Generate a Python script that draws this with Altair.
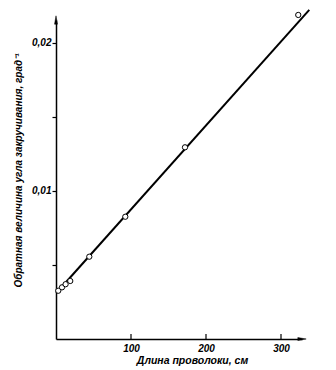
import altair as alt
import pandas as pd

# measured points: wire length (cm) vs inverse twist angle (1/deg)
length_cm = [3, 8, 12.8, 19, 44.4, 92.4, 172, 323]
inv_angle = [0.00326, 0.00349, 0.00370, 0.00392, 0.00556, 0.00826, 0.01295, 0.02189]

# fitted straight line (two ends as drawn)
line_x = [0.4, 337.7]
line_y = [0.00311, 0.02223]

x_ticks = [100, 200, 300]
y_ticks = [0.005, 0.01, 0.015, 0.02]
y_labels = ["", "0,01", "", "0,02"]

X_MAX = 328
Y_MAX = 0.02155

FONT = "Liberation Sans"

pts = pd.DataFrame({"x": length_cm, "y": inv_angle})
ln = pd.DataFrame({"x": line_x, "y": line_y})

label_expr = " : ".join(
    [f"datum.value == {v} ? '{l}'" for v, l in zip(y_ticks, y_labels)]
) + " : ''"

xs = alt.Scale(domain=[0, X_MAX], nice=False, zero=True)
ys = alt.Scale(domain=[0, Y_MAX], nice=False, zero=True)

x_axis = alt.Axis(
    values=x_ticks, format="d", title="Длина проволоки, см",
    grid=False, domainColor="black", domainWidth=1.5,
    ticks=False,
    labelFont=FONT, labelFontStyle="italic", labelFontWeight="bold",
    labelFontSize=10, labelColor="black", labelPadding=4,
    titleFont=FONT, titleFontStyle="italic", titleFontWeight="bold",
    titleFontSize=10.5, titleColor="black", titlePadding=2, titleX=136,
)
y_axis = alt.Axis(
    values=y_ticks, labelExpr=label_expr,
    title="Обратная величина угла закручивания, град⁻¹",
    grid=False, domainColor="black", domainWidth=1.5,
    tickColor="black", tickSize=4, tickWidth=1.2,
    labelFont=FONT, labelFontStyle="italic", labelFontWeight="bold",
    labelFontSize=10, labelColor="black", labelPadding=1,
    titleFont=FONT, titleFontStyle="italic", titleFontWeight="bold",
    titleFontSize=10, titleColor="black", titlePadding=8, titleY=150,
)

line = alt.Chart(ln).mark_line(color="black", strokeWidth=2).encode(
    x=alt.X("x:Q", scale=xs, axis=x_axis),
    y=alt.Y("y:Q", scale=ys, axis=y_axis),
)
circles = alt.Chart(pts).mark_point(
    shape="circle", filled=True, fill="white", stroke="black",
    strokeWidth=1, size=28, opacity=1,
).encode(x=alt.X("x:Q", scale=xs), y=alt.Y("y:Q", scale=ys))

xt = pd.DataFrame({"x": x_ticks, "y0": [0] * len(x_ticks), "y1": [0.00034] * len(x_ticks)})
xtick = alt.Chart(xt).mark_rule(color="black", strokeWidth=1.2).encode(
    x=alt.X("x:Q", scale=xs), y=alt.Y("y0:Q", scale=ys), y2="y1:Q"
)

up = alt.Chart(pd.DataFrame({"x": [0], "y": [Y_MAX]})).mark_point(
    shape="M0,-1L-0.35,1L0.35,1Z", filled=True, fill="black", stroke="black",
    strokeWidth=0.5, size=70, opacity=1,
).encode(x=alt.X("x:Q", scale=xs), y=alt.Y("y:Q", scale=ys))
right = alt.Chart(pd.DataFrame({"x": [X_MAX], "y": [0]})).mark_point(
    shape="M1,0L-1,-0.35L-1,0.35Z", filled=True, fill="black", stroke="black",
    strokeWidth=0.5, size=70, opacity=1,
).encode(x=alt.X("x:Q", scale=xs), y=alt.Y("y:Q", scale=ys))

chart = (line + circles + xtick + up + right).properties(
    width=246, height=319,
    autosize=alt.AutoSizeParams(type="none"),
    padding={"left": 56, "top": 20, "right": 34, "bottom": 31},
    background="white",
).configure_view(stroke=None)

chart.save("out.html", embed_options={"renderer": "svg", "actions": False})
